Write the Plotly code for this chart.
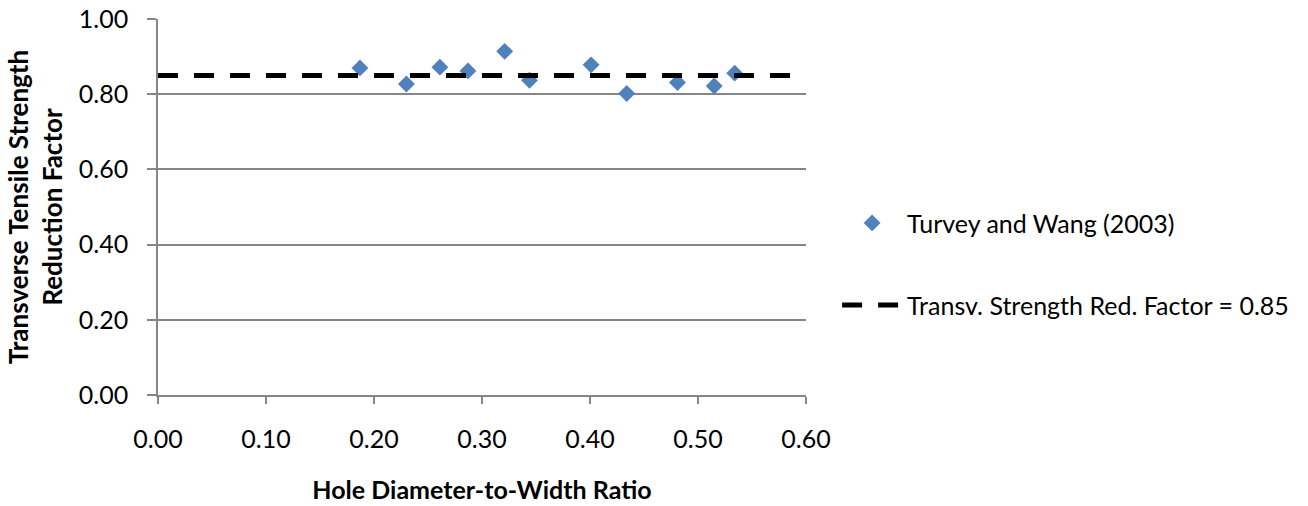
import plotly.graph_objects as go

ratio = [0.187, 0.230, 0.261, 0.287, 0.321, 0.344, 0.401, 0.434, 0.481, 0.515, 0.534]
factor = [0.870, 0.827, 0.872, 0.862, 0.914, 0.837, 0.878, 0.802, 0.831, 0.822, 0.856]
ref_x = [0.0, 0.60]
ref_y = [0.85, 0.85]
x_ticks = [0.0, 0.1, 0.2, 0.3, 0.4, 0.5, 0.6]
y_ticks = [0.0, 0.2, 0.4, 0.6, 0.8, 1.0]

FONT = "Lato, Open Sans, sans-serif"
GRID = "#868686"

fig = go.Figure()
fig.add_trace(go.Scatter(
    x=ratio, y=factor, mode="markers", name="Turvey and Wang (2003)",
    marker=dict(symbol="diamond", size=13, color="#4F81BD"),
    legend="legend",
))
fig.add_trace(go.Scatter(
    x=ref_x, y=ref_y, mode="lines", name="Transv. Strength Red. Factor = 0.85",
    line=dict(color="black", width=5, dash="20px,16px"),
    legend="legend2",
))

fig.update_layout(
    width=1308, height=506,
    margin=dict(l=158, r=502, t=19, b=111, autoexpand=False),
    paper_bgcolor="white", plot_bgcolor="white",
    font=dict(family=FONT, size=25, color="black"),
    showlegend=True,
    legend=dict(x=1.048, y=0.457, xanchor="left", yanchor="middle",
                font=dict(size=25), bgcolor="rgba(0,0,0,0)", itemwidth=60),
    legend2=dict(x=1.048, y=0.239, xanchor="left", yanchor="middle",
                 font=dict(size=25), bgcolor="rgba(0,0,0,0)", itemwidth=60),
    xaxis=dict(
        range=[0, 0.6], tickvals=x_ticks, tickformat=".2f",
        showgrid=False, showline=True, linecolor=GRID, linewidth=1.5,
        ticks="outside", ticklen=7, tickcolor=GRID, tickwidth=1.5,
        zeroline=False, tickfont=dict(size=25), automargin=False,
        ticklabelstandoff=14, ticklabeloverflow="allow",
        title=dict(text="<b>Hole Diameter-to-Width Ratio</b>", font=dict(size=25), standoff=30),
    ),
    yaxis=dict(
        range=[0, 1.0], tickvals=y_ticks, tickformat=".2f",
        showgrid=True, gridcolor=GRID, gridwidth=1.5,
        showline=True, linecolor=GRID, linewidth=1.5,
        ticks="outside", ticklen=9, tickcolor=GRID, tickwidth=1.5,
        zeroline=False, tickfont=dict(size=25), automargin=False,
        ticklabelstandoff=14, ticklabeloverflow="allow",
        title=dict(text="<b>Transverse Tensile Strength<br>Reduction Factor</b>", font=dict(size=26), standoff=9),
    ),
)

fig.write_html("out.html", config={"displayModeBar": False},
               post_script="document.body.style.margin='0';")
